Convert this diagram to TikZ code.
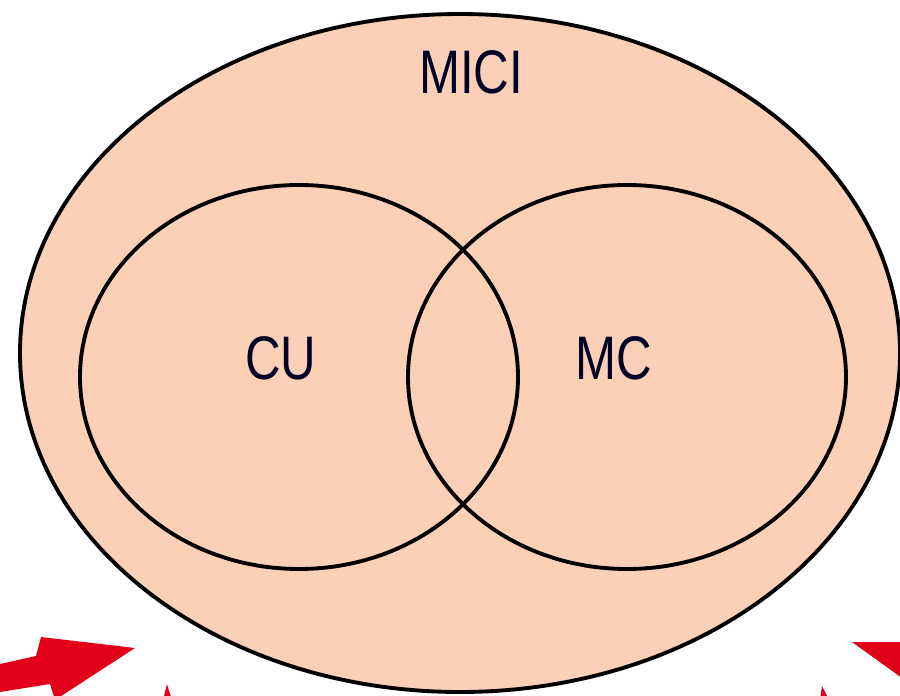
\documentclass[tikz,border=0pt]{standalone}
\usepackage{fontspec}
\setmainfont{Liberation Sans}
\definecolor{peach}{HTML}{FBD0B6}
\definecolor{arrred}{HTML}{E2001A}
\begin{document}
\begin{tikzpicture}[x=0.02cm,y=-0.02cm,
  setline/.style={draw=black,line width=2.2pt},
  lbl/.style={font=\fontsize{35}{40}\selectfont,xscale=0.8,text=black!85!blue,inner sep=0pt},
  redarrow/.style={fill=arrred,draw=none}]
\useasboundingbox (0,0) rectangle (900,696);
\fill[white] (0,0) rectangle (900,696);
% outer set
\draw[setline,fill=peach] (460,353) ellipse [x radius=440,y radius=339];
% inner sets
\draw[setline] (299,377) ellipse [x radius=219,y radius=192];
\draw[setline] (627,377) ellipse [x radius=219,y radius=192];
% labels
\node[lbl] (mici) at (471,72) {MICI};
\node[lbl] (cu) at (281,358) {CU};
\node[lbl] (mc) at (614,358) {MC};
% red arrows (partially cut off)
\fill[redarrow] (0,664) -- (36,656) -- (41,637) -- (135,648) -- (55,700) -- (50,684) -- (0,692) -- cycle;
\fill[redarrow] (167,684) -- (172,700) -- (163,700) -- cycle;
\fill[redarrow] (852,642) -- (902,642) -- (902,678) -- cycle;
\fill[redarrow] (822,686) -- (829,700) -- (820,700) -- cycle;
\end{tikzpicture}
\end{document}
